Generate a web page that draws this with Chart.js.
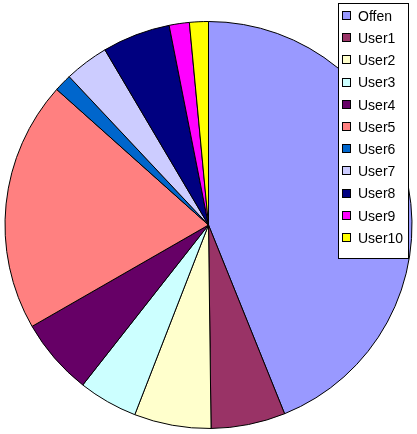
<!DOCTYPE html>
<html>
<head>
<meta charset="utf-8">
<script src="https://cdn.jsdelivr.net/npm/chart.js@4/dist/chart.umd.min.js"></script>
<style>
  body { margin: 0; background: #fff; }
</style>
</head>
<body>
<canvas id="pie-canvas" width="417" height="434"></canvas>
<script>
var labels = ['Offen','User1','User2','User3','User4','User5','User6','User7','User8','User9','User10']
var values = [43.9, 5.9, 6.1, 4.7, 6.1, 19.9, 1.4, 3.5, 5.4, 1.6, 1.5]
var colors = ['#9999ff','#993366','#ffffcc','#ccffff','#660066','#ff8080','#0066cc','#ccccff','#000080','#ff00ff','#ffff00']

// legend box drawn by hand so it can sit over the pie like the original
var boxLegend = {
  id: 'boxLegend',
  afterDraw: function(chart) {
    var ctx = chart.ctx
    var x = 338, y = 3, w = 70, h = 255
    ctx.save()
    ctx.fillStyle = '#fff'
    ctx.fillRect(x, y, w, h)
    ctx.strokeStyle = '#000'
    ctx.lineWidth = 1
    ctx.strokeRect(x + 0.5, y + 0.5, w, h)
    ctx.font = '14px "Liberation Sans", Arial, sans-serif'
    ctx.textBaseline = 'middle'
    chart.data.labels.forEach(function(label, i) {
      var cy = 16 + i * 22.2
      ctx.fillStyle = chart.data.datasets[0].backgroundColor[i]
      ctx.fillRect(342, Math.round(cy) - 4, 8, 8)
      ctx.strokeRect(342.5, Math.round(cy) - 4.5, 8, 8)
      ctx.fillStyle = '#000'
      ctx.fillText(label, 358, cy + 1)
    })
    ctx.restore()
  }
}

var ctx = document.getElementById('pie-canvas').getContext('2d');
var chart = new Chart(ctx, {
    type: 'pie',
    data: {
        labels: labels,
        datasets: [{
            data: values,
            backgroundColor: colors,
            borderColor: '#000',
            borderWidth: 1
        }]
    },
    options: {
      responsive: false,
      animation: false,
      layout: { padding: { top: 21, bottom: 5, left: 0, right: 0 } },
      plugins: {
        legend: { display: false },
        tooltip: { enabled: false }
      },
      events: []
    },
    plugins: [boxLegend]
});
</script>
</body>
</html>
